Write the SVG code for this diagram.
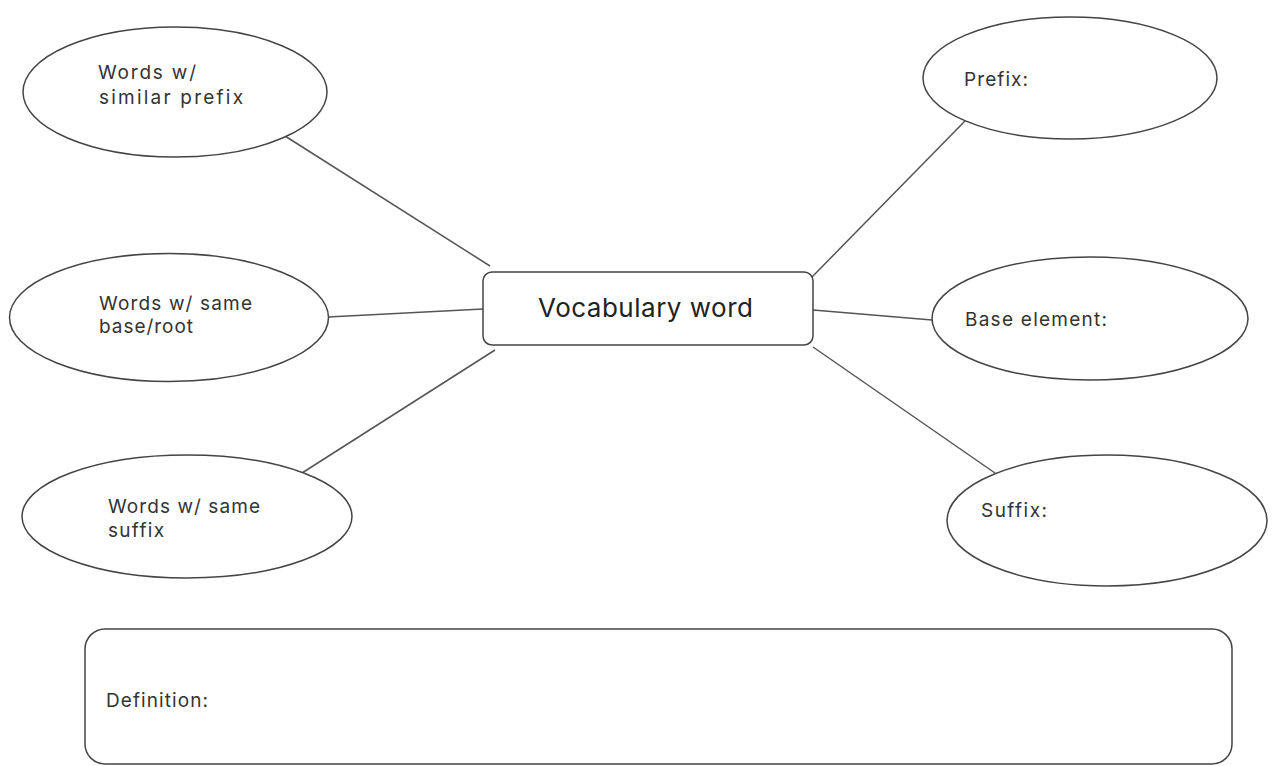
<svg xmlns="http://www.w3.org/2000/svg" width="1272" height="766" viewBox="0 0 1272 766">
  <style>
    .bg { fill: #ffffff; }
    .shape { fill: #ffffff; stroke: #444444; stroke-width: 1.5; }
    .link { stroke: #555555; stroke-width: 1.5; fill: none; }
    .label { font-family: Inter, "Liberation Sans", sans-serif; font-size: 19px; fill: #333333; }
    .title { font-family: Inter, "Liberation Sans", sans-serif; font-size: 26px; fill: #222222; }
  </style>
  <rect class="bg" x="0" y="0" width="1272" height="766"/>

  <!-- connectors between the central word and the surrounding bubbles -->
  <g id="connectors">
    <line class="link" x1="285" y1="136" x2="490" y2="266"/>
    <line class="link" x1="328" y1="317" x2="483" y2="309"/>
    <line class="link" x1="302" y1="473" x2="495" y2="350"/>
    <line class="link" x1="965" y1="121" x2="812" y2="277"/>
    <line class="link" x1="813" y1="310" x2="932" y2="320"/>
    <line class="link" x1="813" y1="347" x2="995" y2="473"/>
  </g>

  <g id="similar-prefix">
    <ellipse class="shape" cx="175" cy="92" rx="152" ry="65"/>
    <text class="label" x="98" y="79" textLength="98" lengthAdjust="spacing">Words w/</text>
    <text class="label" x="99" y="104" textLength="144" lengthAdjust="spacing">similar prefix</text>
  </g>

  <g id="same-base">
    <ellipse class="shape" cx="169" cy="317.5" rx="159.5" ry="64"/>
    <text class="label" x="99" y="310" textLength="153" lengthAdjust="spacing">Words w/ same</text>
    <text class="label" x="99" y="333" textLength="94" lengthAdjust="spacing">base/root</text>
  </g>

  <g id="same-suffix">
    <ellipse class="shape" cx="187" cy="516.5" rx="165" ry="61.5"/>
    <text class="label" x="108" y="513" textLength="152" lengthAdjust="spacing">Words w/ same</text>
    <text class="label" x="108" y="537" textLength="56" lengthAdjust="spacing">suffix</text>
  </g>

  <g id="vocabulary-word">
    <rect class="shape" x="483" y="272" width="330" height="73" rx="9" ry="9"/>
    <text class="title" x="538" y="317" textLength="215" lengthAdjust="spacing">Vocabulary word</text>
  </g>

  <g id="prefix">
    <ellipse class="shape" cx="1070" cy="78" rx="147" ry="61"/>
    <text class="label" x="964" y="86" textLength="64" lengthAdjust="spacing">Prefix:</text>
  </g>

  <g id="base-element">
    <ellipse class="shape" cx="1090" cy="318.5" rx="158" ry="61.5"/>
    <text class="label" x="965" y="326" textLength="142" lengthAdjust="spacing">Base element:</text>
  </g>

  <g id="suffix">
    <ellipse class="shape" cx="1107" cy="520.5" rx="160" ry="65.5"/>
    <text class="label" x="981" y="517" textLength="66" lengthAdjust="spacing">Suffix:</text>
  </g>

  <g id="definition">
    <rect class="shape" x="85" y="629" width="1147" height="135" rx="20" ry="20"/>
    <text class="label" x="106" y="707" textLength="102" lengthAdjust="spacing">Definition:</text>
  </g>
</svg>
